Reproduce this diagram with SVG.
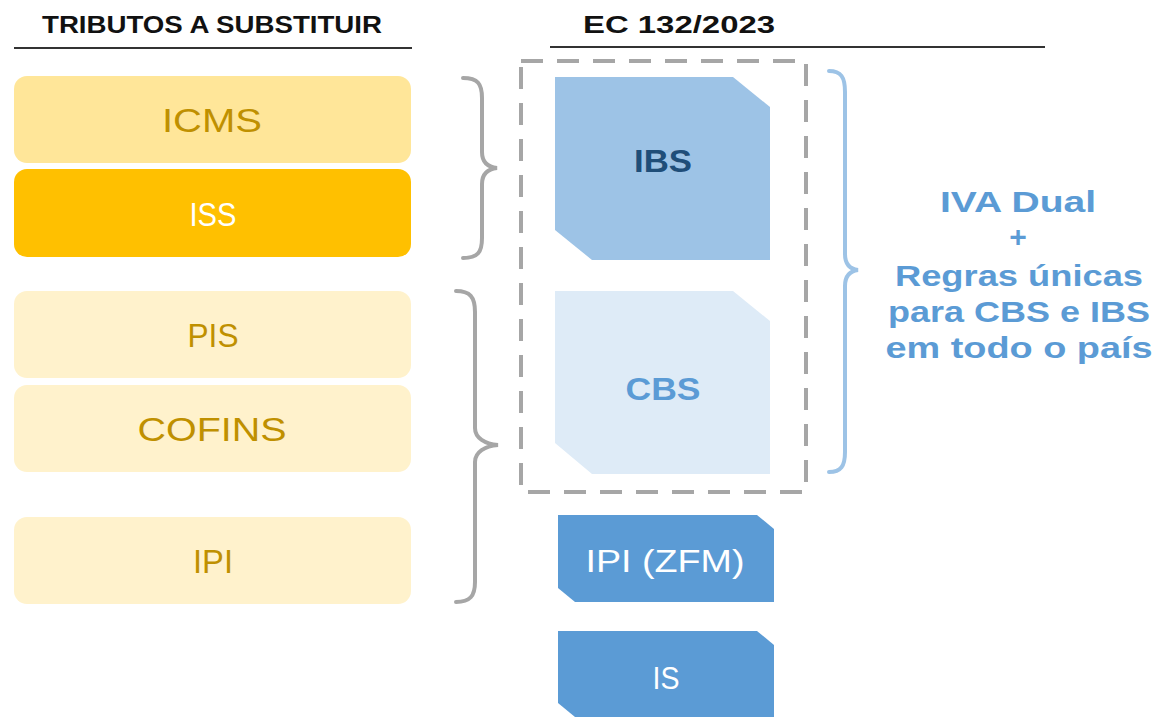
<svg xmlns="http://www.w3.org/2000/svg" width="1157" height="717" viewBox="0 0 1157 717">
<style>
.hdr{font-family:"Liberation Sans",Arial,sans-serif;font-weight:bold;font-size:24px;fill:#111}
.lt{font-family:"Liberation Sans",Arial,sans-serif;font-size:33px;text-anchor:middle;fill:#bf9000}
.bt{font-family:"Liberation Sans",Arial,sans-serif;font-weight:bold;font-size:31px;text-anchor:middle}
.wt{font-family:"Liberation Sans",Arial,sans-serif;font-size:32px;text-anchor:middle;fill:#ffffff}
.rt{font-family:"Liberation Sans",Arial,sans-serif;font-weight:bold;font-size:30px;text-anchor:middle;fill:#5b9bd5}
.brace{fill:none;stroke:#a6a6a6;stroke-width:4;stroke-linecap:round}
</style>
<rect width="1157" height="717" fill="#ffffff"/>
<g id="headers">
<text class="hdr" x="42" y="33" textLength="340" lengthAdjust="spacingAndGlyphs">TRIBUTOS A SUBSTITUIR</text>
<line x1="14" y1="48" x2="412" y2="48" stroke="#333" stroke-width="2"/>
<text class="hdr" x="583" y="33" textLength="192" lengthAdjust="spacingAndGlyphs">EC 132/2023</text>
<line x1="550" y1="47" x2="1045" y2="47" stroke="#333" stroke-width="2"/>
</g>
<g id="icms"><rect x="14" y="76" width="397" height="87" rx="13" fill="#ffe699"/><text class="lt" x="212" y="132" textLength="100" lengthAdjust="spacingAndGlyphs">ICMS</text></g>
<g id="iss"><rect x="14" y="169" width="397" height="88" rx="13" fill="#ffc000"/><text class="wt" x="213" y="226" style="font-size:33px" textLength="47" lengthAdjust="spacingAndGlyphs">ISS</text></g>
<g id="pis"><rect x="14" y="291" width="397" height="87" rx="13" fill="#fff2cc"/><text class="lt" x="213" y="347" textLength="51" lengthAdjust="spacingAndGlyphs">PIS</text></g>
<g id="cofins"><rect x="14" y="385" width="397" height="87" rx="13" fill="#fff2cc"/><text class="lt" x="212" y="441" textLength="149" lengthAdjust="spacingAndGlyphs">COFINS</text></g>
<g id="ipi"><rect x="14" y="517" width="397" height="87" rx="13" fill="#fff2cc"/><text class="lt" x="213" y="573" textLength="40" lengthAdjust="spacingAndGlyphs">IPI</text></g>
<g id="connectors">
<path class="brace" d="M463,78 C478,78 482,84 482,98 L482,152 C482,162 488,167 497,168 C488,169 482,174 482,184 L482,238 C482,252 478,258 463,258"/>
<path class="brace" d="M456,291 C470,291 475,297 475,312 L475,428 C475,438 485,444 498,445 C485,446 475,452 475,462 L475,582 C475,596 470,602 456,602"/>
<path fill="none" stroke="#9dc3e6" stroke-width="4" stroke-linecap="round" d="M829,71 C841,71 845,77 845,92 L845,254 C845,264 850,269 858,270 C850,271 845,276 845,286 L845,452 C845,466 841,472 829,472"/>
</g>
<g id="ec-group"><rect x="521" y="61" width="285" height="431" fill="none" stroke="#a6a6a6" stroke-width="4" stroke-dasharray="22 14"/></g>
<g id="ibs"><polygon points="555,77 733,77 770,107 770,260 592,260 555,230" fill="#9dc3e6"/><text class="bt" x="663" y="172" fill="#1f4e79" textLength="58" lengthAdjust="spacingAndGlyphs">IBS</text></g>
<g id="cbs"><polygon points="555,291 733,291 770,321 770,474 592,474 555,443" fill="#deebf7"/><text class="bt" x="663" y="400" fill="#5b9bd5" textLength="75" lengthAdjust="spacingAndGlyphs">CBS</text></g>
<g id="ipi-zfm"><polygon points="558,515 757,515 774,529 774,602 575,602 558,588" fill="#5b9bd5"/><text class="wt" x="665" y="572" textLength="159" lengthAdjust="spacingAndGlyphs">IPI (ZFM)</text></g>
<g id="is"><polygon points="558,631 757,631 774,645 774,717 575,717 558,703" fill="#5b9bd5"/><text class="wt" x="666" y="689" textLength="27" lengthAdjust="spacingAndGlyphs">IS</text></g>
<g id="iva-text">
<text class="rt" x="1018" y="212" textLength="156" lengthAdjust="spacingAndGlyphs">IVA Dual</text>
<text class="rt" x="1018" y="247">+</text>
<text class="rt" x="1019" y="286" textLength="248" lengthAdjust="spacingAndGlyphs">Regras únicas</text>
<text class="rt" x="1019" y="322" textLength="262" lengthAdjust="spacingAndGlyphs">para CBS e IBS</text>
<text class="rt" x="1019" y="358" textLength="267" lengthAdjust="spacingAndGlyphs">em todo o país</text>
</g>
</svg>
